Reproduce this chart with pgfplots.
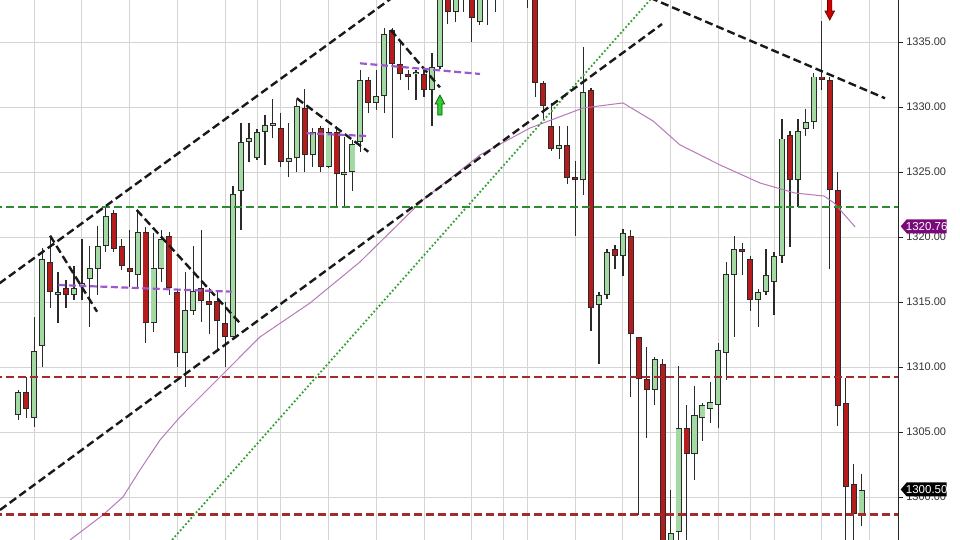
\documentclass[border=0pt]{standalone}
\usepackage{fontspec}
\setmainfont{Liberation Sans}
\usepackage{pgfplots}
\usepackage{pgfplotstable}
\pgfplotsset{compat=1.18}

\definecolor{upfill}{HTML}{A3D9A3}
\definecolor{dnfill}{HTML}{B71C1C}
\definecolor{edge}{HTML}{2A2A2A}
\definecolor{lvlgreen}{HTML}{2E8B2E}
\definecolor{lvlred}{HTML}{A52A2A}
\definecolor{trendpurple}{HTML}{9B59D0}
\definecolor{dotgreen}{HTML}{33A033}
\definecolor{mapink}{HTML}{B878B8}
\definecolor{tagpurple}{HTML}{7A0A7A}
\definecolor{txt}{HTML}{333333}

% i = bar number, o h l c = open high low close
\pgfplotstableread{
i o h l c
0 1306.3 1308.2 1305.9 1308.1
1 1308.1 1309.25 1306.1 1306.8
2 1306.1 1313.87 1305.4 1311.25
3 1311.64 1319.13 1310.02 1318.31
4 1318.1 1320.02 1314.56 1315.79
5 1315.54 1317.33 1313.36 1315.79
6 1316.1 1316.69 1314.56 1315.54
7 1315.54 1317.77 1315.15 1316.1
8 1316.2 1319.82 1315.15 1316.45
9 1316.77 1319.33 1313.1 1317.59
10 1317.54 1320.85 1315.54 1319.33
11 1319.33 1322.38 1318.87 1321.62
12 1321.82 1322.08 1318.87 1319.08
13 1319.33 1319.82 1317.46 1317.77
14 1317.59 1320.54 1316.17 1317.28
15 1317.08 1322.08 1316.05 1320.36
16 1320.36 1320.79 1311.82 1313.36
17 1313.36 1320.28 1312.72 1317.59
18 1317.54 1320.54 1316.56 1319.82
19 1320.08 1320.41 1315.54 1316.05
20 1315.79 1315.9 1310.02 1311.05
21 1311.05 1317.33 1308.48 1314.38
22 1314.31 1319.33 1314.0 1315.85
23 1316.05 1320.54 1313.49 1315.1
24 1315.1 1316.05 1312.54 1314.77
25 1315.1 1315.9 1311.3 1313.56
26 1313.36 1315.02 1310.02 1312.33
27 1312.33 1323.92 1312.3 1323.31
28 1323.56 1328.79 1320.54 1327.33
29 1327.33 1328.79 1325.79 1327.59
30 1326.05 1328.3 1325.9 1328.10
31 1328.10 1329.38 1325.54 1328.62
32 1328.62 1330.59 1327.59 1328.67
33 1328.36 1329.56 1325.41 1325.79
34 1325.79 1328.79 1324.59 1326.05
35 1326.05 1330.54 1325.03 1330.08
36 1329.9 1331.36 1325.03 1326.31
37 1326.31 1328.36 1325.41 1328.10
38 1328.36 1328.5 1325.03 1325.41
39 1325.41 1328.4 1325.3 1328.10
40 1328.10 1328.5 1322.33 1324.85
41 1324.85 1327.72 1322.33 1324.87
42 1325.03 1327.46 1323.56 1327.15
43 1327.33 1332.85 1326.56 1332.08
44 1332.08 1332.3 1329.51 1330.33
45 1330.28 1332.85 1329.77 1330.85
46 1330.85 1336.05 1329.51 1335.62
47 1335.92 1336.05 1327.59 1333.31
48 1333.31 1335.02 1332.08 1332.54
49 1332.54 1332.85 1331.31 1332.28
50 1332.6 1332.85 1330.54 1332.62
51 1332.54 1333.0 1330.8 1331.31
52 1331.31 1334.13 1328.54 1333.1
53 1333.1 1339.5 1332.9 1339.0
54 1339.0 1339.5 1336.38 1337.33
55 1337.33 1339.8 1336.56 1339.2
56 1338.8 1340.0 1337.33 1339.5
57 1339.5 1340.0 1335.02 1336.82
58 1336.56 1339.5 1336.3 1339.0
59 1339.4 1339.9 1336.3 1338.6
60 1338.8 1340.0 1337.33 1339.6
61 1339.5 1341.0 1338.6 1340.5
62 1340.5 1341.2 1339.0 1339.6
63 1339.6 1340.8 1338.9 1340.2
64 1340.0 1340.5 1337.59 1339.0
65 1339.5 1340.0 1330.80 1331.86
66 1331.86 1332.0 1329.08 1330.06
67 1328.55 1330.28 1326.6 1326.77
68 1326.77 1328.55 1326.03 1327.1
69 1327.1 1328.55 1324.04 1324.57
70 1324.57 1325.82 1320.06 1324.36
71 1324.36 1334.65 1323.25 1331.12
72 1331.33 1331.46 1312.77 1314.54
73 1314.76 1315.8 1310.25 1315.55
74 1315.55 1319.1 1315.2 1318.87
75 1319.08 1319.4 1317.54 1318.55
76 1318.55 1320.6 1317.0 1320.28
77 1320.06 1320.5 1307.72 1312.56
78 1312.29 1312.3 1298.6 1309.05
79 1309.05 1311.57 1304.54 1308.25
80 1308.25 1310.77 1307.08 1310.59
81 1310.25 1310.6 1294.0 1295.0
82 1295.5 1300.57 1294.5 1297.23
83 1297.33 1310.08 1295.5 1305.33
84 1305.33 1307.08 1295.5 1303.31
85 1303.31 1308.54 1301.31 1306.31
86 1306.05 1307.2 1304.33 1307.08
87 1306.8 1308.87 1305.72 1307.33
88 1307.08 1311.82 1305.28 1311.31
89 1311.05 1318.1 1309.0 1317.13
90 1317.08 1320.08 1312.33 1319.08
91 1319.08 1319.56 1317.08 1318.82
92 1318.31 1318.5 1314.33 1315.15
93 1315.15 1316.0 1313.05 1315.79
94 1315.79 1319.08 1315.54 1317.08
95 1316.56 1318.87 1314.0 1318.54
96 1318.55 1329.08 1318.02 1327.57
97 1327.81 1328.15 1319.26 1324.38
98 1324.38 1329.08 1322.3 1328.15
99 1328.3 1329.88 1327.76 1328.82
100 1328.82 1332.6 1328.3 1332.34
101 1332.34 1336.58 1331.28 1332.08
102 1332.08 1332.34 1317.54 1323.59
103 1323.59 1325.02 1305.47 1307.0
104 1307.25 1309.19 1295.5 1300.75
105 1300.96 1302.56 1295.5 1298.71
106 1298.71 1301.76 1297.8 1300.56
}\candles

\pgfplotsset{
  wick/.style={draw=none, mark=none, forget plot,
    error bars/.cd, y dir=plus, y explicit, error mark=none,
    error bar style={draw=edge, line width=1.2pt}, /pgfplots/.cd},
  body/.style={draw=none, mark=none, forget plot,
    error bars/.cd, y dir=plus, y explicit, error mark=none,
    error bar style={draw=#1, line width=6pt}, /pgfplots/.cd},
  fillbody/.style={draw=none, mark=none, forget plot,
    error bars/.cd, y dir=plus, y explicit, error mark=none,
    error bar style={draw=#1, line width=4.2pt}, /pgfplots/.cd},
  blackdash/.style={black!90, line width=2.4pt, dash pattern=on 8pt off 4pt, mark=none},
  purpledash/.style={trendpurple, line width=2.2pt, dash pattern=on 7pt off 3.5pt, mark=none},
  leveldash/.style={line width=2.2pt, dash pattern=on 8pt off 4pt, mark=none},
}

\begin{document}
\begin{tikzpicture}
\path[use as bounding box] (0,0) rectangle (960pt,540pt);
\begin{axis}[
  at={(0,0)}, anchor=south west,
  scale only axis,
  width=898.3pt, height=540pt,
  xmin=-2.30, xmax=110.62,
  ymin=1296.69, ymax=1338.23,
  axis line style={draw=none},
  xtick={2,8,14,20,26,30,33,39,45,51,57,61,64,70,76,82,88,92,95,101,107},
  xticklabels={},
  xtick style={draw=none},
  ytick={1300,1305,...,1335},
  ytick pos=right, yticklabel pos=right,
  tick align=outside,
  major tick length=4.5pt,
  ytick style={draw=black!85, line width=0.8pt},
  scaled y ticks=false,
  y tick label style={font=\fontsize{11}{13}\selectfont, text=txt,
    /pgf/number format/.cd, fixed, fixed zerofill, precision=2,
    1000 sep={}, assume math mode=true},
  xmajorgrids, ymajorgrids,
  grid style={black!17, line width=0.9pt},
]
% wicks
\addplot[wick] table[x=i, y=l, y error plus expr=\thisrow{h}-\thisrow{l}] {\candles};
% body outlines
\addplot[body=edge] table[x=i,
  y expr={0.5*(\thisrow{o}+\thisrow{c})-0.5*max(abs(\thisrow{c}-\thisrow{o}),0.22)},
  y error plus expr={max(abs(\thisrow{c}-\thisrow{o}),0.22)}] {\candles};
% up bodies
\addplot[restrict expr to domain={\thisrow{c}-\thisrow{o}}{0:100}, fillbody=upfill] table[x=i,
  y expr={0.5*(\thisrow{o}+\thisrow{c})-0.5*max(abs(\thisrow{c}-\thisrow{o}),0.22)+0.07},
  y error plus expr={max(abs(\thisrow{c}-\thisrow{o}),0.22)-0.14}] {\candles};
% down bodies
\addplot[restrict expr to domain={\thisrow{c}-\thisrow{o}}{-100:-0.00001}, fillbody=dnfill] table[x=i,
  y expr={0.5*(\thisrow{o}+\thisrow{c})-0.5*max(abs(\thisrow{c}-\thisrow{o}),0.22)+0.07},
  y error plus expr={max(abs(\thisrow{c}-\thisrow{o}),0.22)-0.14}] {\candles};

% moving average
\addplot[mapink, line width=1pt, mark=none] coordinates {
  (6.5,1296.69) (10.65,1298.62) (13.16,1300.0) (15.3,1302.08) (17.81,1304.38)
  (20.33,1306.15) (24.98,1309.0) (30.38,1312.31) (36.67,1314.92) (42.95,1318.08)
  (50.87,1322.85) (58.04,1326.31) (64.32,1328.38) (70.99,1329.92) (76.01,1330.31)
  (79.79,1328.92) (83.18,1327.08) (88.21,1325.54) (93.24,1324.15) (97.64,1323.38)
  (101.28,1323.15) (102.54,1322.62) (105.2,1320.77)
};

% horizontal levels
\addplot[lvlgreen, leveldash] coordinates {(-3,1322.30) (112,1322.30)};
\addplot[lvlred, leveldash] coordinates {(-3,1309.2) (112,1309.2)};
\addplot[lvlred, leveldash] coordinates {(-3,1298.65) (112,1298.65)};

% dotted green trend
\addplot[dotgreen, line width=1.8pt, dash pattern=on 1.8pt off 2.2pt, mark=none] coordinates {(18,1295.78) (81,1339.33)};

% channel and trend lines
\addplot[blackdash] coordinates {(-2.4,1316.42) (48,1338.85)};
\addplot[blackdash] coordinates {(-2.3,1299.0) (80.92,1336.38)};
\addplot[blackdash] coordinates {(79.41,1338.4) (108.95,1330.67)};
\addplot[blackdash] coordinates {(4.0,1320.1) (9.9,1314.25)};
\addplot[blackdash] coordinates {(14.88,1322.08) (27.96,1313.31)};
\addplot[blackdash] coordinates {(35.0,1330.67) (44.0,1326.56)};
\addplot[blackdash] coordinates {(46.81,1335.92) (53.0,1331.51)};

% purple flags
\addplot[purpledash] coordinates {(5.03,1316.31) (26.83,1315.79)};
\addplot[purpledash] coordinates {(36.25,1327.98) (43.8,1327.77)};
\addplot[purpledash] coordinates {(42.95,1333.36) (58.04,1332.54)};

% signal arrows
\addplot[fill=green!75!black!80, draw=green!35!black, line width=0.7pt] coordinates {
  (53,1330.92) (53.6,1330.23) (53.27,1330.23) (53.27,1329.38)
  (52.73,1329.38) (52.73,1330.23) (52.4,1330.23)} -- cycle;
\addplot[fill=red!80!black, draw=red!40!black, line width=0.7pt] coordinates {
  (102,1336.69) (102.6,1337.38) (102.27,1337.38) (102.27,1338.6)
  (101.73,1338.6) (101.73,1337.38) (101.4,1337.38)} -- cycle;

\coordinate (tagA) at (axis cs:110.62,1320.82);
\coordinate (tagB) at (axis cs:110.62,1300.58);
\end{axis}
\draw[black!85, line width=0.9pt] (current axis.south east) -- (current axis.north east);
\begin{scope}[shift={(tagA)}]
  \fill[tagpurple] (2.4pt,0) -- (8.4pt,7pt) -- (48.4pt,7pt) -- (48.4pt,-7pt) -- (8.4pt,-7pt) -- cycle;
  \node[text=white, font=\fontsize{11.5}{13}\selectfont, inner sep=0pt] at (28.4pt,0) {1320.76};
\end{scope}
\begin{scope}[shift={(tagB)}]
  \fill[black] (2.4pt,0) -- (8.4pt,7pt) -- (48.4pt,7pt) -- (48.4pt,-7pt) -- (8.4pt,-7pt) -- cycle;
  \node[text=white, font=\fontsize{11.5}{13}\selectfont, inner sep=0pt] at (28.4pt,0) {1300.50};
\end{scope}
\end{tikzpicture}
\end{document}
